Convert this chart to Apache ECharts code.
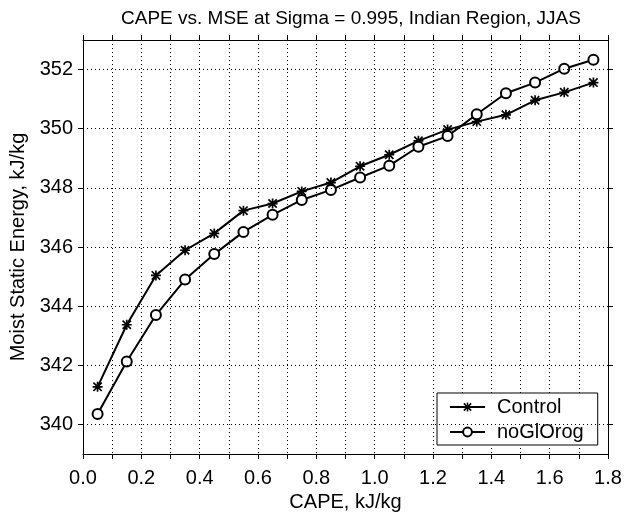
<!DOCTYPE html>
<html>
<head>
<meta charset="utf-8">
<script src="https://cdn.jsdelivr.net/npm/echarts@6/dist/echarts.min.js"></script>
<style>html,body{margin:0;padding:0;background:#fff}#c{width:625px;height:518px}</style>
</head>
<body>
<div id="c"></div>
<script>
const capeBins = [0.05,0.15,0.25,0.35,0.45,0.55,0.65,0.75,0.85,0.95,1.05,1.15,1.25,1.35,1.45,1.55,1.65,1.75];
const controlMSE = [341.27,343.37,345.04,345.89,346.46,347.23,347.47,347.88,348.18,348.73,349.12,349.59,349.97,350.24,350.47,350.96,351.23,351.56];
const noGlOrogMSE = [340.35,342.13,343.70,344.90,345.76,346.51,347.09,347.59,347.93,348.35,348.75,349.39,349.75,350.49,351.20,351.56,352.03,352.33];
const yTicks = [340,342,344,346,348,350,352];
const seriesNames = ['Control','noGlOrog'];
const titleText = 'CAPE vs. MSE at Sigma = 0.995, Indian Region, JJAS';
const xName = 'CAPE, kJ/kg';
const yName = 'Moist Static Energy, kJ/kg';

const FONT = 'Liberation Sans, Arial, Helvetica, sans-serif';
const asterisk = 'path://M0 8.3L20 8.3L20 11.7L0 11.7Z M8.3 0L11.7 0L11.7 20L8.3 20Z M2.9 0.5L19.5 17.1L17.1 19.5L0.5 2.9Z M19.5 2.9L2.9 19.5L0.5 17.1L17.1 0.5Z';

const chart = echarts.init(document.getElementById('c'), null, {renderer:'canvas'});
const dotted = {color:'#000', width:1, type:[1,3]};
const xFmt = v => { const r = Math.round(v*10); return r % 2 === 0 ? (r/10).toFixed(1) : ''; };

chart.setOption({
  animation:false,
  backgroundColor:'#fff',
  title:{text:titleText, left:116, top:4, textStyle:{fontFamily:FONT, fontSize:19, fontWeight:'normal', color:'#000'}},
  grid:{left:83, right:17, top:40, bottom:64, containLabel:false},
  legend:{
    data:seriesNames, orient:'vertical', left:437, top:393,
    padding:[4,14,3,12], itemGap:5, itemWidth:35, itemHeight:11,
    borderColor:'#000', borderWidth:1, backgroundColor:'#fff',
    textStyle:{fontFamily:FONT, fontSize:20, color:'#000', padding:[0,0,0,7]}
  },
  xAxis:[
    {type:'value', position:'bottom', min:0, max:1.8, interval:0.1,
     name:xName, nameLocation:'middle', nameGap:36,
     nameTextStyle:{fontFamily:FONT, fontSize:20, color:'#000'},
     axisLine:{show:true, onZero:false, lineStyle:{color:'#000', width:1}},
     axisTick:{show:true, inside:false, length:5, lineStyle:{color:'#000'}},
     axisLabel:{formatter:xFmt, fontFamily:FONT, fontSize:20, color:'#000', margin:14, showMinLabel:true, showMaxLabel:true, hideOverlap:false},
     splitLine:{show:true, lineStyle:dotted}},
    {type:'value', position:'top', min:0, max:1.8, interval:0.1,
     axisLine:{show:true, onZero:false, lineStyle:{color:'#000', width:1}},
     axisTick:{show:true, inside:false, length:5, lineStyle:{color:'#000'}},
     axisLabel:{show:false}, splitLine:{show:false}}
  ],
  yAxis:[
    {type:'value', position:'left', min:339, max:353, interval:1,
     name:yName, nameLocation:'middle', nameGap:55,
     nameTextStyle:{fontFamily:FONT, fontSize:20, color:'#000'},
     axisLine:{show:true, onZero:false, lineStyle:{color:'#000', width:1}},
     axisTick:{show:true, inside:false, length:5, customValues:yTicks, lineStyle:{color:'#000'}},
     axisLabel:{customValues:yTicks, fontFamily:FONT, fontSize:20, color:'#000', margin:10},
     splitLine:{show:false}},
    {type:'value', position:'right', min:339, max:353, interval:1,
     axisLine:{show:true, onZero:false, lineStyle:{color:'#000', width:1}},
     axisTick:{show:true, inside:false, length:5, customValues:yTicks, lineStyle:{color:'#000'}},
     axisLabel:{show:false}, splitLine:{show:false}}
  ],
  series:[
    {name:'grid', type:'line', data:[], xAxisIndex:0, yAxisIndex:0, silent:true, z:1,
     markLine:{silent:true, symbol:['none','none'], label:{show:false}, animation:false,
       lineStyle:dotted, emphasis:{disabled:true},
       data:yTicks.map(v => ({yAxis:v}))}},
    {name:seriesNames[0], type:'line', xAxisIndex:0, yAxisIndex:0, z:3,
     data:capeBins.map((x,i)=>[x, controlMSE[i]]),
     symbol:asterisk, symbolSize:10, showAllSymbol:true,
     lineStyle:{color:'#000', width:2}, itemStyle:{color:'#000', borderWidth:0}},
    {name:seriesNames[1], type:'line', xAxisIndex:0, yAxisIndex:0, z:3,
     data:capeBins.map((x,i)=>[x, noGlOrogMSE[i]]),
     symbol:'emptyCircle', symbolSize:10, showAllSymbol:true,
     lineStyle:{color:'#000', width:2}, itemStyle:{color:'#000', borderColor:'#000', borderWidth:2}}
  ]
});
</script>
</body>
</html>
